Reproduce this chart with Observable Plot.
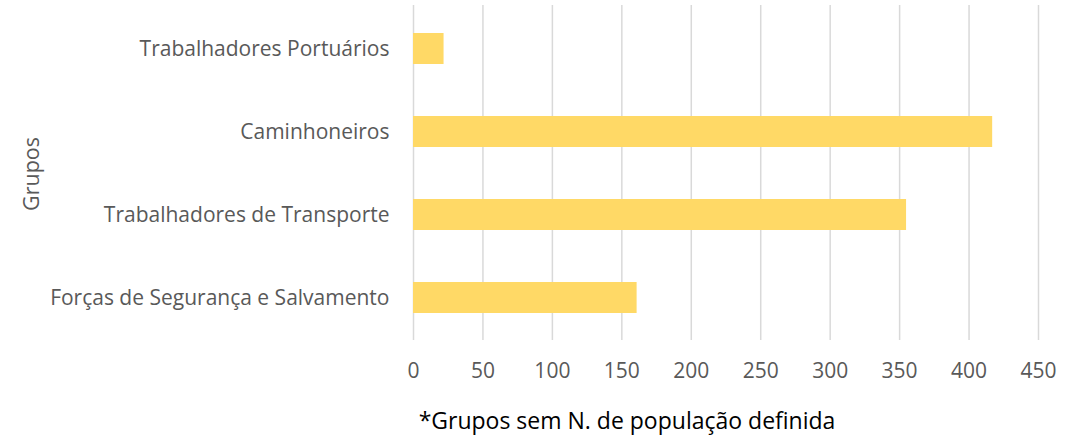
<!DOCTYPE html>
<html>
<head>
<meta charset="utf-8">
<script src="https://cdn.jsdelivr.net/npm/d3@7"></script>
<script src="https://cdn.jsdelivr.net/npm/@observablehq/plot@0.6"></script>
<style>
  html, body { margin: 0; padding: 0; background: #fff; }
  #chart svg { display: block; }
</style>
</head>
<body>
<div id="chart"></div>
<script>
const groups = [
  "Trabalhadores Portuários",
  "Caminhoneiros",
  "Trabalhadores de Transporte",
  "Forças de Segurança e Salvamento"
];
const values = [22, 417, 355, 161];
const xTicks = [0, 50, 100, 150, 200, 250, 300, 350, 400, 450];
const yLabel = "Grupos";
const caption = "*Grupos sem N. de população definida";

const data = groups.map((g, i) => ({group: g, value: values[i]}));

const font = "'Open Sans', sans-serif";
const textColor = "#595959";

const chart = Plot.plot({
  width: 1079,
  height: 438,
  marginTop: 5,
  marginBottom: 98,
  marginLeft: 413,
  marginRight: 41,
  style: {fontFamily: font, fontSize: "21px", color: textColor, background: "#fff"},
  x: {domain: [0, 450], ticks: xTicks},
  y: {domain: groups, paddingInner: 0.63, paddingOuter: 0.315},
  marks: [
    Plot.gridX(xTicks, {stroke: "#d9d9d9", strokeOpacity: 1, strokeWidth: 1.5}),
    Plot.barX(data, {x: "value", y: "group", fill: "#FFD966"}),
    Plot.axisX(xTicks, {tickSize: 0, tickPadding: 23, fontSize: 21, fill: textColor, label: null}),
    Plot.axisY({tickSize: 0, tickPadding: 24, fontSize: 21, fill: textColor, label: null}),
    Plot.text([yLabel], {frameAnchor: "left", textAnchor: "middle", dx: -381, dy: 1, rotate: -90, fontSize: 21.5, fill: textColor}),
    Plot.text([caption], {frameAnchor: "bottom", dx: -99, dy: 88, fontSize: 23, fill: "#000"})
  ]
});
document.getElementById("chart").appendChild(chart);
</script>
</body>
</html>
